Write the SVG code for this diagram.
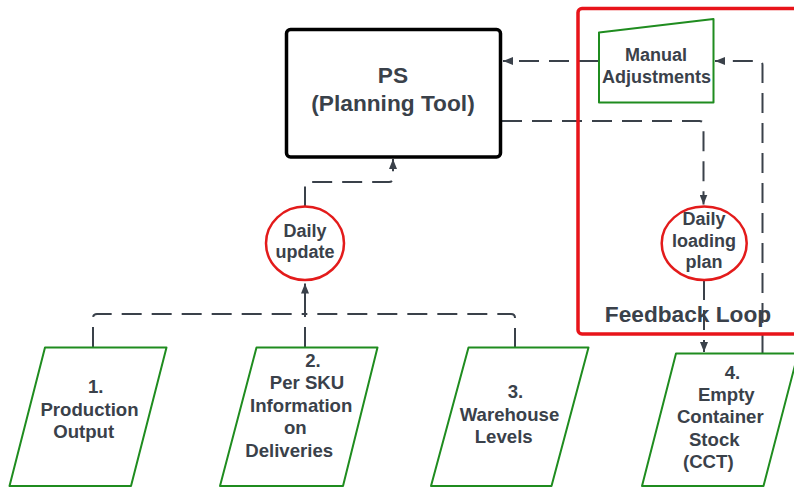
<svg xmlns="http://www.w3.org/2000/svg" width="794" height="488" viewBox="0 0 794 488">
  <defs>
    <marker id="arrow" viewBox="0 0 10 8" refX="10" refY="4" markerWidth="10" markerHeight="8" markerUnits="userSpaceOnUse" orient="auto">
      <path d="M0,0 L10,4 L0,8 Z" fill="#3a414a"/>
    </marker>
    <style>
      .lbl { font-family: "Liberation Sans", Arial, sans-serif; font-weight: bold; fill: #3a414a; text-anchor: middle; }
      .s18 { font-size: 18px; }
      .s185 { font-size: 18.6px; }
      .s22 { font-size: 22.7px; }
      .conn { fill: none; stroke: #3a414a; stroke-width: 2; stroke-dasharray: 20 10; }
      .solid { fill: none; stroke: #3a414a; stroke-width: 2; }
      .data { fill: #ffffff; stroke: #1f8c1f; stroke-width: 2; stroke-linejoin: round; }
      .event { fill: #ffffff; stroke: #e31b1b; stroke-width: 2.5; }
    </style>
  </defs>

  <rect width="794" height="488" fill="#ffffff"/>

  <!-- connectors -->
  <g id="connectors">
    <path class="conn" d="M305,206.5 V186 Q305,182 309,182 H389 Q393,182 393,178 V159" marker-end="url(#arrow)"/>
    <path class="conn" d="M599,61 H503" marker-end="url(#arrow)"/>
    <path class="conn" d="M502,121 H699.5 Q703.5,121 703.5,125 V204.5" marker-end="url(#arrow)"/>
    <path class="conn" d="M704,280 V352" marker-end="url(#arrow)"/>
    <path class="conn" d="M762.5,353 V65 Q762.5,61 758.5,61 H715" marker-end="url(#arrow)"/>
    <path class="conn" d="M93,347 V318 Q93,314 97,314 H305"/>
    <path class="conn" d="M515,348 V318 Q515,314 511,314 H305"/>
    <path class="conn" d="M305,347 V314"/>
    <path class="solid" d="M305,314 V283.5" marker-end="url(#arrow)"/>
  </g>

  <!-- feedback loop frame -->
  <g id="feedback-loop">
    <rect x="578" y="8.5" width="240" height="325.5" rx="4" fill="none" stroke="#e8141a" stroke-width="3.5"/>
    <text class="lbl s22" x="688" y="322">Feedback Loop</text>
  </g>

  <!-- planning tool -->
  <g id="ps">
    <rect x="286.5" y="29.5" width="214" height="127.5" rx="4" fill="#ffffff" stroke="#000000" stroke-width="3.5"/>
    <text class="lbl s22" x="393" y="83">PS</text>
    <text class="lbl s22" x="393" y="111">(Planning Tool)</text>
  </g>

  <g id="manual-adjustments">
    <path class="data" d="M599,32.5 L713.5,19 L713.5,102.5 L599,102.5 Z"/>
    <text class="lbl s18" x="656" y="61">Manual</text>
    <text class="lbl s18" x="656.5" y="82.5">Adjustments</text>
  </g>

  <g id="daily-update">
    <ellipse class="event" cx="305" cy="243.3" rx="39" ry="36.7"/>
    <text class="lbl s18" x="305" y="236.5">Daily</text>
    <text class="lbl s18" x="305" y="258">update</text>
  </g>

  <g id="daily-loading-plan">
    <ellipse class="event" cx="704.2" cy="243.3" rx="42.5" ry="36.7"/>
    <text class="lbl s18" x="704" y="225">Daily</text>
    <text class="lbl s18" x="704" y="246.7">loading</text>
    <text class="lbl s18" x="704" y="268.3">plan</text>
  </g>

  <!-- data sources -->
  <g id="production-output">
    <path class="data" d="M45,347.5 H166.5 L131,486 H9.5 Z"/>
    <text class="lbl s185" x="95.7" y="393.3">1.</text>
    <text class="lbl s185" x="89.5" y="416">Production</text>
    <text class="lbl s185" x="83.7" y="438.3">Output</text>
  </g>

  <g id="sku-deliveries">
    <path class="data" d="M256.5,347.5 H377.5 L343,486 H220 Z"/>
    <text class="lbl s185" x="313" y="366.7">2.</text>
    <text class="lbl s185" x="307" y="389.3">Per SKU</text>
    <text class="lbl s185" x="301.2" y="411.7">Information</text>
    <text class="lbl s185" x="295.3" y="434">on</text>
    <text class="lbl s185" x="289.2" y="456.7">Deliveries</text>
  </g>

  <g id="warehouse-levels">
    <path class="data" d="M468.5,347.5 H588.5 L551.5,486 H431 Z"/>
    <text class="lbl s185" x="515.5" y="398.3">3.</text>
    <text class="lbl s185" x="509.5" y="420.7">Warehouse</text>
    <text class="lbl s185" x="503.7" y="443.3">Levels</text>
  </g>

  <g id="container-stock">
    <path class="data" d="M676,353.5 H798 L763.5,486 H642 Z"/>
    <text class="lbl s185" x="732.5" y="379">4.</text>
    <text class="lbl s185" x="726.3" y="401">Empty</text>
    <text class="lbl s185" x="720.3" y="423.3">Container</text>
    <text class="lbl s185" x="714.3" y="445.7">Stock</text>
    <text class="lbl s185" x="708.3" y="467.5">(CCT)</text>
  </g>
</svg>
